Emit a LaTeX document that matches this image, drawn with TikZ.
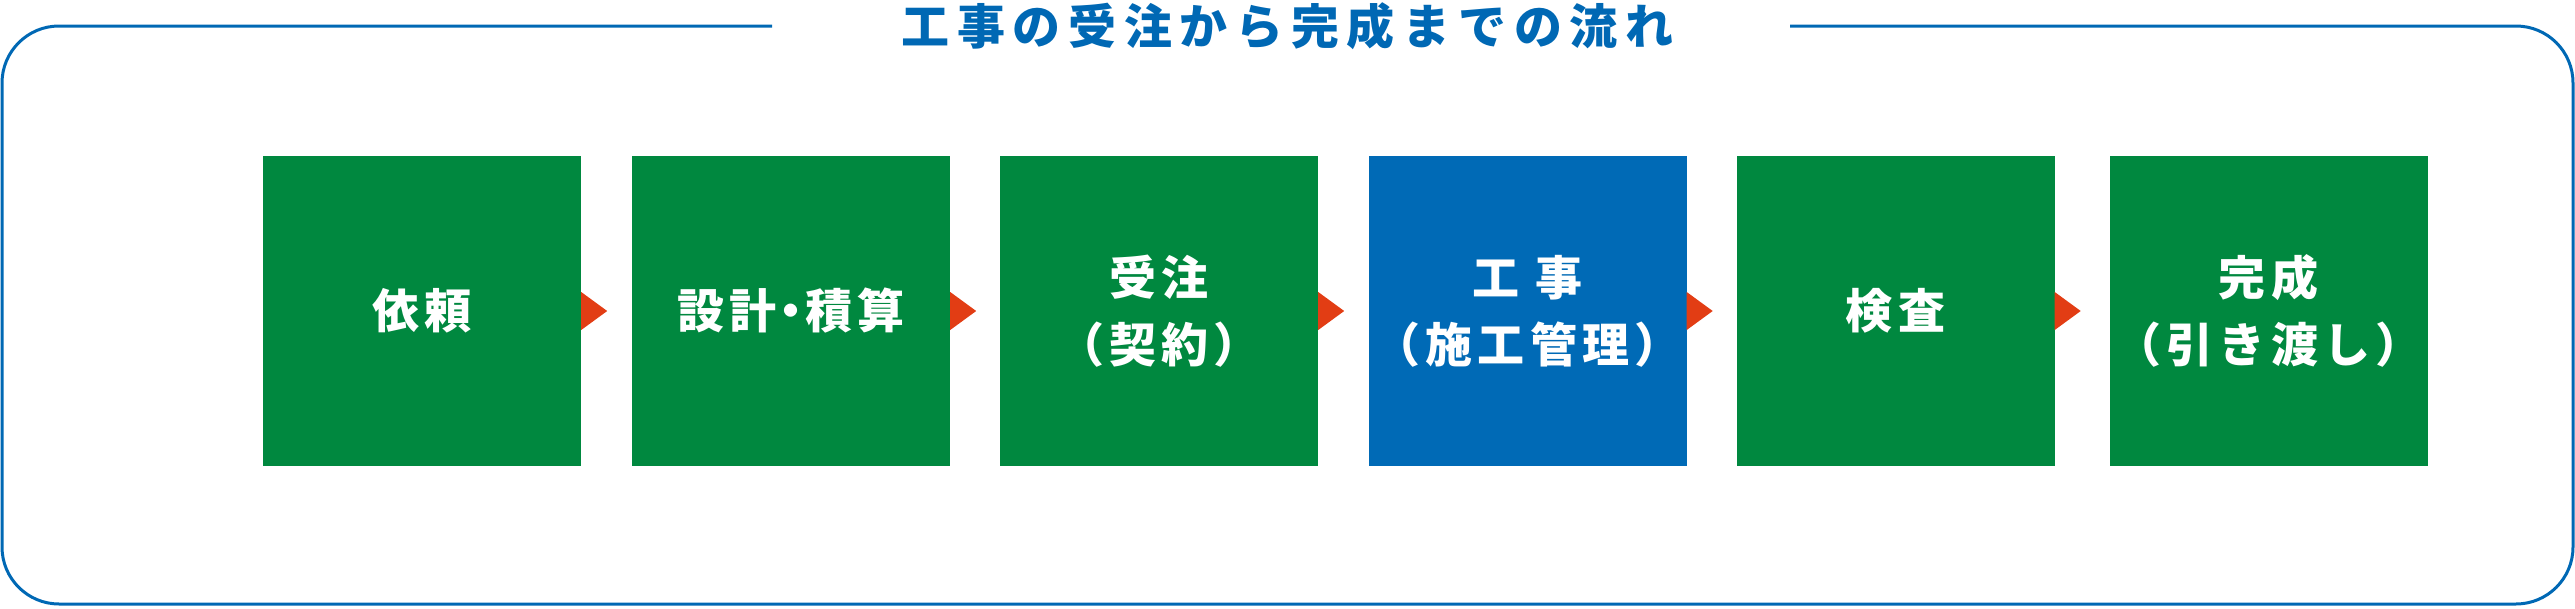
\documentclass[tikz,border=0pt]{standalone}
\usepackage{fontspec}
\setmainfont{Noto Sans CJK JP}
\definecolor{stepgreen}{HTML}{00883F}
\definecolor{stepblue}{HTML}{006AB6}
\definecolor{framblue}{HTML}{0068B4}
\definecolor{arrowred}{HTML}{E23D14}
\tikzset{
  stepbox/.style={minimum width=318pt, minimum height=310pt, inner sep=0pt, text=white,
    fill=stepgreen, align=center,
    font=\fontsize{47}{67}\selectfont\bfseries\addfontfeature{LetterSpace=11}},
  steparrow/.style={fill=arrowred},
  frame/.style={draw=framblue, line width=3pt, rounded corners=57pt},
  titletext/.style={text=framblue, inner sep=0pt,
    font=\fontsize{48}{58}\selectfont\bfseries\addfontfeature{LetterSpace=16}}
}
\begin{document}
\begin{tikzpicture}[x=1pt,y=-1pt]
\useasboundingbox (0,0) rectangle (2575,608);
\coordinate (fl) at (772,26);
\coordinate (fr) at (1790,26);
\draw[frame] (fl) -- (2,26) -- (2,604) -- (2573,604) -- (2573,26) -- (fr);
\node[titletext] (title) at (1287.5,26) {工事の受注から完成までの流れ};
\node[stepbox] (b1) at (422,311) {依頼};
\node[stepbox] (b2) at (791,311) {設計\kern-9pt・\kern-9pt積算};
\node[stepbox] (b3) at (1159,311) {受注\\（契約）};
\node[stepbox, fill=stepblue] (b4) at (1527.5,311) {工 事\\（施工管理）};
\node[stepbox] (b5) at (1895.5,311) {検査};
\node[stepbox] (b6) at (2268.5,311) {完成\\（引き渡し）};
\foreach \n in {b1,b2,b3,b4,b5}{
  \fill[steparrow] ([yshift=19pt]\n.east) -- ([xshift=26pt]\n.east) -- ([yshift=-19pt]\n.east) -- cycle;
}
\end{tikzpicture}
\end{document}
